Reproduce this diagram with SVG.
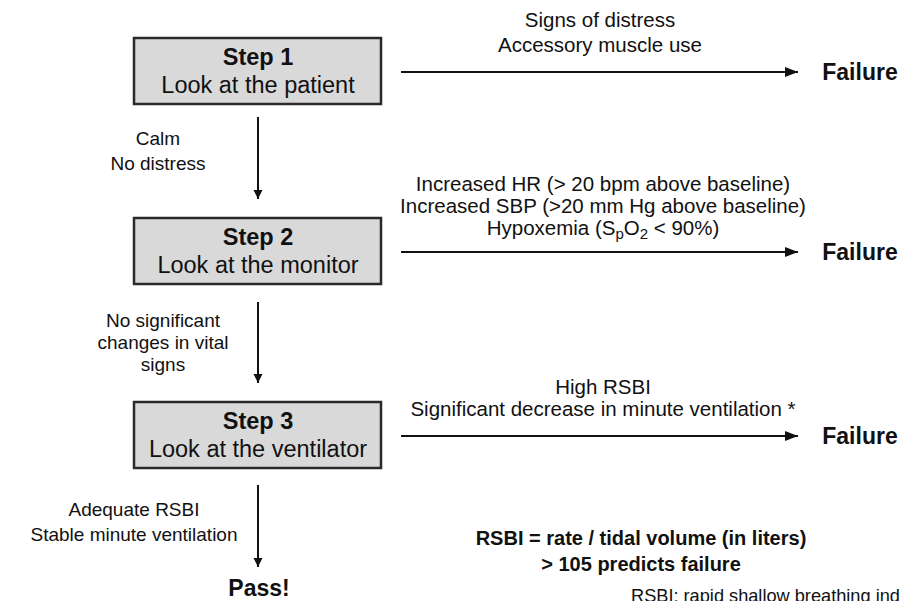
<svg xmlns="http://www.w3.org/2000/svg" width="901" height="601" viewBox="0 0 901 601">
<defs>
<marker id="ah" markerWidth="13" markerHeight="10" refX="13" refY="5" orient="auto" markerUnits="userSpaceOnUse">
<path d="M0,0 L13,5 L0,10 z" fill="#111"/>
</marker>
<marker id="av" markerWidth="9" markerHeight="11" refX="9" refY="4.5" orient="auto" markerUnits="userSpaceOnUse">
<path d="M0,0 L9,4.5 L0,9 z" fill="#111"/>
</marker>
<style>
.box{fill:#d9d9d9;stroke:#2a2a2a;stroke-width:2.5}
.t{font-family:"Liberation Sans",Arial,sans-serif;fill:#111;text-anchor:middle}
.b{font-weight:bold}
.n{font-size:23.5px}
.f{font-size:23px}
.s{font-size:19px}
.l{font-size:20.5px}
.con{stroke:#111;stroke-width:2;fill:none}
.h{marker-end:url(#ah)}
.v{marker-end:url(#av)}
</style>
</defs>
<rect width="901" height="601" fill="#fff"/>
<g id="connectors">
<line class="con v" x1="258" y1="117" x2="258" y2="199"/>
<line class="con v" x1="258" y1="302" x2="258" y2="383"/>
<line class="con v" x1="258" y1="485" x2="258" y2="567"/>
<line class="con h" x1="401" y1="72" x2="798" y2="72"/>
<line class="con h" x1="401" y1="252" x2="798" y2="252"/>
<line class="con h" x1="401" y1="436" x2="798" y2="436"/>
</g>
<g id="step1">
<rect class="box" x="134" y="38" width="247" height="66"/>
<text class="t b n" x="258" y="65">Step 1</text>
<text class="t n" x="258" y="93">Look at the patient</text>
</g>
<g id="step2">
<rect class="box" x="134" y="218" width="247" height="66"/>
<text class="t b n" x="258" y="245">Step 2</text>
<text class="t n" x="258" y="273">Look at the monitor</text>
</g>
<g id="step3">
<rect class="box" x="134" y="402" width="247" height="66"/>
<text class="t b n" x="258" y="429">Step 3</text>
<text class="t n" x="258" y="457">Look at the ventilator</text>
</g>
<g id="fail1"><text class="t b f" x="860" y="80">Failure</text></g>
<g id="fail2"><text class="t b f" x="860" y="260">Failure</text></g>
<g id="fail3"><text class="t b f" x="860" y="444">Failure</text></g>
<g id="pass"><text class="t b f" x="259" y="596">Pass!</text></g>
<g id="labels">
<text class="t l" x="600" y="27">Signs of distress</text>
<text class="t l" x="600" y="52">Accessory muscle use</text>
<text class="t l" x="603" y="191">Increased HR (&gt; 20 bpm above baseline)</text>
<text class="t l" x="603" y="213">Increased SBP (&gt;20 mm Hg above baseline)</text>
<text class="t l" x="603" y="235">Hypoxemia (S<tspan font-size="15" dy="4">p</tspan><tspan dy="-4">O</tspan><tspan font-size="15" dy="4">2</tspan><tspan dy="-4"> &lt; 90%)</tspan></text>
<text class="t l" x="603" y="394">High RSBI</text>
<text class="t l" x="603" y="416">Significant decrease in minute ventilation *</text>
<text class="t s" x="158" y="145">Calm</text>
<text class="t s" x="158" y="170">No distress</text>
<text class="t s" x="163" y="327">No significant</text>
<text class="t s" x="163" y="349">changes in vital</text>
<text class="t s" x="163" y="371">signs</text>
<text class="t s" x="134" y="516">Adequate RSBI</text>
<text class="t s" x="134" y="541">Stable minute ventilation</text>
<text class="t b" style="font-size:20px" x="641" y="545">RSBI = rate / tidal volume (in liters)</text>
<text class="t b" style="font-size:20px" x="641" y="571">&gt; 105 predicts failure</text>
<text class="t" style="font-size:18.2px;text-anchor:start" x="631" y="602">RSBI: rapid shallow breathing ind</text>
</g>
</svg>
